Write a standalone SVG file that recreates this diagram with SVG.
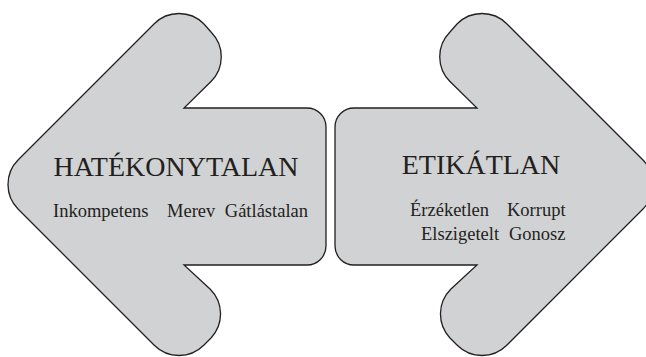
<svg xmlns="http://www.w3.org/2000/svg" width="646" height="357" viewBox="0 0 646 357">
  <style>
    .arrow { fill: #d1d2d4; stroke: #231f20; stroke-width: 1.3; stroke-linejoin: miter; }
    .title { font-size: 28px; fill: #231f20; }
    .word { font-size: 18.5px; fill: #231f20; }
  </style>
  <rect width="646" height="357" fill="#ffffff"/>
  <g id="node-hatekonytalan" font-family="'Liberation Serif', 'DejaVu Serif', serif">
    <path class="arrow" d="M18.25,159.75 L154.25,23.75 A35,35 0 0 1 203.75,23.75 L211.25,32.25 A35,35 0 0 1 211,81.5 L184,108 L307,108 A19,19 0 0 1 326,127 L326,246 A19,19 0 0 1 307,265 L184,265 L210.3,289.3 A35,35 0 0 1 211.25,337.75 L203.75,345.25 A35,35 0 0 1 154.25,345.25 L18.25,209.25 A35,35 0 0 1 18.25,159.75 Z"/>
    <text class="title" x="176" y="176" text-anchor="middle">HATÉKONYTALAN</text>
    <text class="word" x="53" y="216.5">Inkompetens</text>
    <text class="word" x="167" y="216.5">Merev</text>
    <text class="word" x="308" y="216.5" text-anchor="end">Gátlástalan</text>
  </g>
  <g id="node-etikatlan" font-family="'Liberation Serif', 'DejaVu Serif', serif">
    <path class="arrow" d="M642.75,159.75 L506.75,23.75 A35,35 0 0 0 457.25,23.75 L449.75,32.25 A35,35 0 0 0 450,81.5 L477,108 L354,108 A19,19 0 0 0 335,127 L335,246 A19,19 0 0 0 354,265 L477,265 L450.7,289.3 A35,35 0 0 0 449.75,337.75 L457.25,345.25 A35,35 0 0 0 506.75,345.25 L642.75,209.25 A35,35 0 0 0 642.75,159.75 Z"/>
    <text class="title" x="481" y="173.5" text-anchor="middle">ETIKÁTLAN</text>
    <text class="word" x="410" y="216">Érzéketlen</text>
    <text class="word" x="507" y="216">Korrupt</text>
    <text class="word" x="421" y="239.5">Elszigetelt</text>
    <text class="word" x="509" y="239.5">Gonosz</text>
  </g>
  <g id="connectors"></g>
</svg>
